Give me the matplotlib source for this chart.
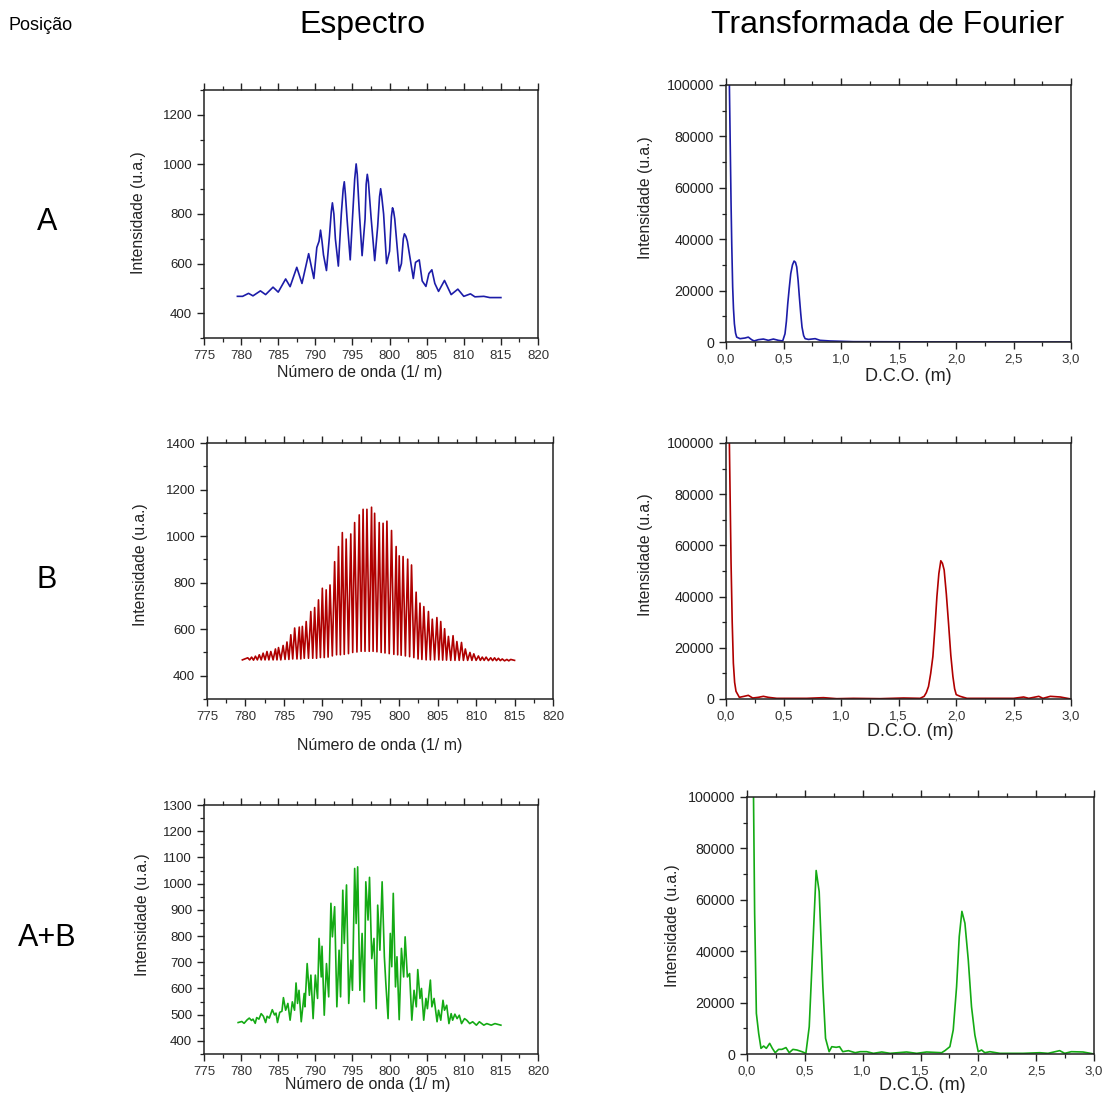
import numpy as np
import matplotlib
matplotlib.use("Agg")
import matplotlib.pyplot as plt
from matplotlib.ticker import MultipleLocator, FuncFormatter

plt.rcParams["font.family"] = ["Liberation Sans", "DejaVu Sans"]

# =========================
# DATEN
# =========================

# Espectro A (azul)
spec_a_x = [779.5, 780.2, 781.0, 781.6, 782.6, 783.3, 784.3, 785.0, 786.0, 786.6,
            787.5, 788.2, 789.1, 789.8, 790.2, 790.5, 790.7, 790.9, 791.1, 791.5,
            791.9, 792.15, 792.3, 792.5, 792.7, 793.1, 793.5, 793.75, 793.9, 794.05,
            794.3, 794.7, 795.0, 795.3, 795.5, 795.65, 795.9, 796.3, 796.7, 796.85,
            797.0, 797.15, 797.5, 798.0, 798.4, 798.65, 798.8, 798.95, 799.2, 799.6,
            800.0, 800.25, 800.4, 800.55, 800.7, 801.3, 801.6, 801.85, 802.0, 802.2,
            802.4, 803.2, 803.5, 804.0, 804.4, 804.9, 805.3, 805.7, 806.1, 806.6,
            807.4, 808.3, 809.2, 810.0, 810.9, 811.5, 812.7, 813.5, 815.0]
spec_a_y = [468, 468, 480, 470, 490, 475, 505, 485, 538, 507,
            585, 520, 640, 540, 665, 690, 735, 690, 635, 572,
            710, 810, 845, 800, 700, 590, 800, 900, 930, 880,
            770, 615, 780, 940, 1002, 960, 820, 632, 780, 920,
            960, 930, 790, 612, 750, 870, 902, 870, 800, 600,
            650, 790, 825, 810, 780, 570, 600, 700, 720, 710,
            690, 540, 605, 615, 530, 508, 560, 575, 520, 488,
            532, 475, 497, 468, 478, 466, 468, 463, 463]

# Espectro B (vermelho)
spec_b_x = [779.6, 780.3, 780.55, 780.8, 781.05, 781.3, 781.55, 781.8, 782.05, 782.3,
            782.55, 782.8, 783.05, 783.3, 783.6, 783.9, 784.1, 784.3, 784.6, 784.9,
            785.15, 785.4, 785.65, 785.9, 786.15, 786.4, 786.7, 787.0, 787.2, 787.4,
            787.65, 787.9, 788.2, 788.5, 788.75, 789.0, 789.25, 789.5, 789.75, 790.0,
            790.25, 790.5, 790.75, 791.0, 791.3, 791.6, 791.85, 792.1, 792.35, 792.6,
            792.85, 793.1, 793.4, 793.7, 793.95, 794.2, 794.5, 794.8, 795.05, 795.3,
            795.55, 795.8, 796.1, 796.4, 796.6, 796.8, 797.1, 797.4, 797.65, 797.9,
            798.15, 798.4, 798.7, 799.0, 799.3, 799.6, 799.8, 800.0, 800.25, 800.5,
            800.8, 801.1, 801.35, 801.6, 801.9, 802.2, 802.45, 802.7, 802.95, 803.2,
            803.5, 803.8, 804.05, 804.3, 804.6, 804.9, 805.15, 805.4, 805.65, 805.9,
            806.15, 806.4, 806.7, 807.0, 807.25, 807.5, 807.8, 808.1, 808.35, 808.6,
            808.9, 809.2, 809.45, 809.7, 810.0, 810.3, 810.55, 810.8, 811.05, 811.3,
            811.6, 811.9, 812.15, 812.4, 812.65, 812.9, 813.15, 813.4, 813.7, 814.0,
            814.25, 814.5, 815.0]
spec_b_y = [468, 477, 468, 480, 467, 484, 468, 490, 468, 497,
            468, 504, 468, 504, 468, 515, 468, 521, 468, 530,
            470, 545, 470, 576, 472, 605, 472, 609, 472, 612,
            475, 633, 475, 676, 475, 693, 475, 726, 478, 776,
            478, 769, 480, 790, 485, 890, 490, 955, 490, 1015,
            492, 987, 495, 1009, 500, 1058, 502, 1091, 505, 1115,
            505, 1115, 505, 1124, 505, 1098, 503, 1058, 500, 1055,
            498, 1064, 495, 1024, 492, 955, 490, 915, 488, 912,
            485, 901, 482, 876, 478, 759, 472, 712, 470, 697,
            468, 676, 468, 643, 468, 650, 468, 633, 467, 602,
            467, 569, 466, 572, 466, 547, 466, 543, 466, 515,
            466, 500, 466, 494, 466, 485, 466, 480, 466, 480,
            465, 477, 465, 477, 465, 475, 465, 472, 464, 470,
            464, 470, 466]

# Espectro A+B (verde)
spec_c_x = [779.6, 780.1, 780.4, 780.8, 781.1, 781.4, 781.6, 781.9, 782.1, 782.4,
            782.7, 783.0, 783.3, 783.5, 783.8, 784.2, 784.5, 784.7, 784.9, 785.2,
            785.5, 785.7, 786.0, 786.3, 786.6, 786.9, 787.2, 787.4, 787.6, 787.8,
            788.1, 788.5, 788.6, 788.9, 789.2, 789.4, 789.7, 790.0, 790.3, 790.5,
            790.8, 790.9, 791.2, 791.5, 791.8, 792.1, 792.3, 792.6, 792.9, 793.2,
            793.4, 793.7, 793.9, 794.2, 794.5, 794.8, 795.0, 795.3, 795.5, 795.7,
            796.0, 796.3, 796.6, 796.8, 797.1, 797.3, 797.6, 797.9, 798.2, 798.4,
            798.7, 799.0, 799.3, 799.5, 799.8, 800.1, 800.3, 800.5, 800.8, 801.0,
            801.3, 801.6, 801.9, 802.1, 802.4, 802.7, 803.0, 803.3, 803.6, 803.8,
            804.1, 804.3, 804.6, 804.9, 805.1, 805.5, 805.7, 806.0, 806.4, 806.6,
            806.9, 807.2, 807.4, 807.7, 808.0, 808.3, 808.5, 808.8, 809.1, 809.4,
            809.7, 810.1, 810.4, 810.8, 811.2, 811.7, 812.1, 812.7, 813.1, 813.7,
            814.2, 815.0]
spec_c_y = [470, 474, 467, 480, 487, 478, 483, 467, 489, 483,
            504, 494, 470, 494, 487, 519, 499, 506, 470, 509,
            513, 565, 517, 543, 479, 549, 517, 621, 543, 593,
            473, 581, 530, 695, 574, 651, 485, 651, 562, 791,
            644, 761, 498, 695, 568, 925, 797, 912, 530, 746,
            568, 975, 772, 995, 543, 708, 593, 1058, 848, 1064,
            593, 810, 549, 1007, 861, 1024, 714, 791, 523, 918,
            746, 1007, 721, 619, 485, 810, 683, 963, 606, 721,
            481, 753, 644, 797, 644, 657, 479, 593, 530, 672,
            562, 600, 479, 562, 523, 632, 530, 562, 473, 517,
            479, 555, 517, 536, 466, 504, 479, 502, 485, 498,
            466, 485, 479, 466, 473, 460, 473, 460, 466, 460,
            466, 460]

# Transformada de Fourier A
fft_a_x = [0.02, 0.044, 0.05, 0.058, 0.065, 0.073, 0.083, 0.093, 0.122, 0.165,
           0.194, 0.223, 0.244, 0.281, 0.325, 0.368, 0.412, 0.455, 0.493, 0.513,
           0.525, 0.537, 0.55, 0.563, 0.578, 0.592, 0.604, 0.615, 0.627, 0.638,
           0.65, 0.661, 0.675, 0.688, 0.717, 0.775, 0.818, 0.905, 1.108, 1.69, 3.0]
fft_a_y = [130000, 53800, 38000, 21400, 13000, 7100, 3500, 1900, 1300, 1550,
           1900, 900, 400, 900, 1150, 650, 1150, 650, 400, 3200,
           8000, 14900, 21000, 26600, 30000, 31500, 31000, 29200, 24000, 17500,
           11000, 5800, 2500, 1300, 1000, 1300, 650, 400, 130, 50, 0]

# Transformada de Fourier B
fft_b_x = [0.02, 0.044, 0.054, 0.064, 0.075, 0.087, 0.116, 0.157, 0.194, 0.232,
           0.281, 0.325, 0.368, 0.441, 0.615, 0.702, 0.847, 0.963, 1.108, 1.34,
           1.543, 1.688, 1.723, 1.742, 1.761, 1.78, 1.799, 1.817, 1.834, 1.851,
           1.868, 1.882, 1.897, 1.916, 1.935, 1.955, 1.973, 1.988, 2.002, 2.036,
           2.095, 2.269, 2.501, 2.588, 2.632, 2.72, 2.756, 2.82, 2.907, 3.0]
fft_b_y = [130000, 53000, 30000, 14000, 6500, 3000, 650, 1040, 1430, 390,
           650, 1040, 650, 260, 260, 260, 520, 130, 260, 130,
           390, 260, 1040, 2500, 4900, 10000, 16600, 28000, 40000, 49000,
           54000, 53000, 50400, 41000, 29600, 17000, 8800, 4000, 1700, 1040,
           260, 260, 260, 780, 260, 1040, 260, 1040, 780, 0]

# Transformada de Fourier A+B
fft_c_x = [0.05, 0.066, 0.081, 0.101, 0.121, 0.144, 0.167, 0.196, 0.219, 0.244,
           0.273, 0.302, 0.337, 0.365, 0.397, 0.431, 0.475, 0.509, 0.538, 0.569,
           0.598, 0.624, 0.656, 0.679, 0.71, 0.733, 0.771, 0.80, 0.828, 0.877,
           0.935, 0.978, 1.035, 1.093, 1.165, 1.237, 1.38, 1.467, 1.553, 1.683,
           1.711, 1.754, 1.783, 1.812, 1.835, 1.858, 1.884, 1.913, 1.941, 1.97,
           1.999, 2.028, 2.056, 2.10, 2.186, 2.387, 2.531, 2.603, 2.703, 2.747,
           2.804, 2.905, 3.0]
fft_c_y = [130000, 54800, 15800, 8000, 2200, 3100, 2200, 4150, 2200, 500,
           1800, 1800, 2500, 500, 1800, 1560, 900, 260, 10600, 41800,
           71400, 63200, 26200, 6100, 900, 2850, 2600, 2850, 900, 1300,
           500, 900, 900, 260, 780, 260, 780, 260, 780, 500,
           1300, 2850, 9350, 26200, 45700, 55500, 50900, 36600, 18400, 7400,
           900, 1560, 500, 900, 260, 260, 500, 260, 1300, 260,
           900, 780, 0]

row_labels = ["A", "B", "A+B"]
colors = ["#1c1ca8", "#b00000", "#14aa14"]

# =========================
# LAYOUT
# =========================
W, H = 1105, 1093
fig = plt.figure(figsize=(W / 100, H / 100), dpi=100)


def px_axes(left, right, top, bottom):
    return fig.add_axes([left / W, 1 - bottom / H, (right - left) / W, (bottom - top) / H])


def style_axes(ax, xlab, ylab, xlab_pos, ylab_pos, xlab_size, tick_y_size):
    for s in ax.spines.values():
        s.set_linewidth(1.1)
        s.set_color("#222222")
    ax.tick_params(which="both", direction="out", top=True, right=False,
                   labeltop=False, colors="#222222")
    ax.tick_params(which="major", length=5, width=1.0)
    ax.tick_params(which="minor", length=3, width=0.9)
    ax.tick_params(axis="x", labelsize=9.5, labelcolor="#333333")
    ax.tick_params(axis="y", labelsize=tick_y_size, labelcolor="#222222")
    ax.set_xlabel(xlab, fontsize=xlab_size, color="#222222")
    ax.set_ylabel(ylab, fontsize=11.3, color="#222222")
    ax.xaxis.set_label_coords(*xlab_pos)
    ax.yaxis.set_label_coords(*ylab_pos)


def spectrum_panel(box, x, y, color, ylim, ymajor, yminor, xlab_pos, ylab_pos):
    ax = px_axes(*box)
    ax.plot(x, y, color=color, lw=1.2)
    ax.set_xlim(775, 820)
    ax.set_ylim(*ylim)
    ax.xaxis.set_major_locator(MultipleLocator(5))
    ax.xaxis.set_minor_locator(MultipleLocator(2.5))
    ax.yaxis.set_major_locator(MultipleLocator(ymajor))
    ax.yaxis.set_minor_locator(MultipleLocator(yminor))
    ax.yaxis.set_major_formatter(FuncFormatter(lambda v, p: f"{v:.0f}"))
    style_axes(ax, "Número de onda (1/ m)", "Intensidade (u.a.)",
               xlab_pos, ylab_pos, 11.5, 9.5)
    return ax


def fft_panel(box, x, y, color, xlab_pos, ylab_pos):
    ax = px_axes(*box)
    ax.plot(x, y, color=color, lw=1.2)
    ax.set_xlim(0, 3)
    ax.set_ylim(0, 100000)
    ax.xaxis.set_major_locator(MultipleLocator(0.5))
    ax.xaxis.set_minor_locator(MultipleLocator(0.25))
    ax.yaxis.set_major_locator(MultipleLocator(20000))
    ax.yaxis.set_minor_locator(MultipleLocator(10000))
    ax.xaxis.set_major_formatter(FuncFormatter(lambda v, p: f"{v:.1f}".replace(".", ",")))
    ax.yaxis.set_major_formatter(FuncFormatter(lambda v, p: f"{v:.0f}"))
    style_axes(ax, "D.C.O. (m)", "Intensidade (u.a.)",
               xlab_pos, ylab_pos, 13, 10.3)
    return ax


# Linke Spalte: Spektren
spectrum_panel((204, 538, 90, 338), spec_a_x, spec_a_y, colors[0],
               (300, 1300), 200, 100, (0.467, -0.109), (-0.174, 0.504))
spectrum_panel((207, 553, 443, 699), spec_b_x, spec_b_y, colors[1],
               (300, 1400), 200, 100, (0.50, -0.152), (-0.171, 0.523))
spectrum_panel((204, 538, 805, 1054), spec_c_x, spec_c_y, colors[2],
               (350, 1300), 100, 50, (0.491, -0.092), (-0.162, 0.558))

# Rechte Spalte: Fourier-Transformierte
fft_panel((726, 1071, 85, 342), fft_a_x, fft_a_y, colors[0],
          (0.528, -0.101), (-0.212, 0.56))
fft_panel((726, 1071, 443, 699), fft_b_x, fft_b_y, colors[1],
          (0.533, -0.094), (-0.212, 0.5625))
fft_panel((747, 1094, 797, 1054), fft_c_x, fft_c_y, colors[2],
          (0.504, -0.088), (-0.193, 0.50))

# Ueberschriften
fig.text(8 / W, 1 - 25 / H, "Posição", fontsize=13, ha="left", va="center")
fig.text(362 / W, 1 - 25 / H, "Espectro", fontsize=23, ha="center", va="center")
fig.text(888 / W, 1 - 25 / H, "Transformada de Fourier", fontsize=23,
         ha="center", va="center")
for lab, yc in zip(row_labels, [222, 580, 938]):
    fig.text(47 / W, 1 - yc / H, lab, fontsize=22, ha="center", va="center")

fig.savefig("out.png", dpi=100)
